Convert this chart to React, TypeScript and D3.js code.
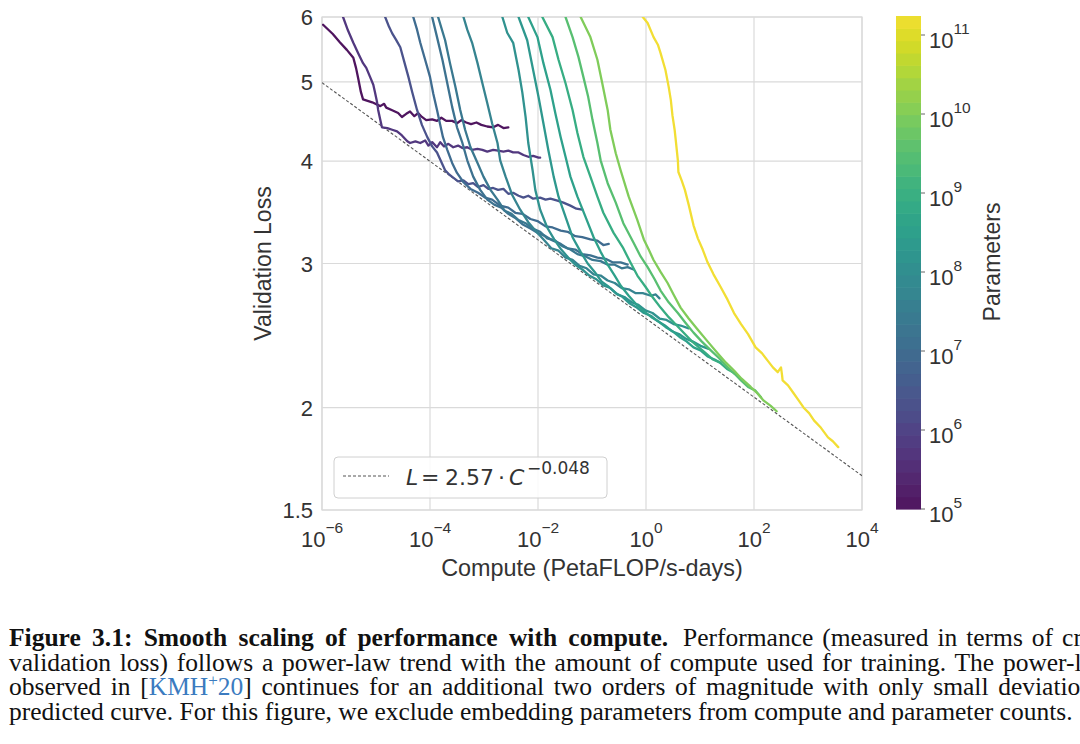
import React from 'react';
import * as d3 from 'd3';

const W = 1080;
const H = 744;

// Parameter count of each run (estimated from its colour on the colour bar)
const modelParams = [1.1e5, 5.6e5, 2.3e6, 1.0e7, 1.5e7, 2.3e7, 5.0e7, 1.3e8, 2.0e8, 3.6e8, 8.5e8, 3.2e9, 1.0e10, 1.74e11];

// Each curve: [log10 compute (PetaFLOP/s-days), validation loss]
const run1: [number, number][] = [[-5.98,5.87],[-5.80,5.72],[-5.67,5.59],[-5.54,5.47],[-5.42,5.35],[-5.37,5.20],[-5.33,5.05],[-5.28,4.86],[-5.24,4.76],[-5.07,4.72],[-4.92,4.67],[-4.85,4.70],[-4.81,4.65],[-4.68,4.61],[-4.59,4.58],[-4.52,4.53],[-4.44,4.57],[-4.37,4.60],[-4.29,4.54],[-4.22,4.58],[-4.15,4.53],[-4.07,4.49],[-3.96,4.50],[-3.87,4.48],[-3.79,4.52],[-3.70,4.48],[-3.59,4.48],[-3.50,4.45],[-3.42,4.49],[-3.33,4.46],[-3.24,4.44],[-3.14,4.46],[-3.05,4.43],[-2.94,4.41],[-2.83,4.40],[-2.74,4.43],[-2.64,4.39],[-2.55,4.40]];
const run2: [number, number][] = [[-5.61,6.0],[-5.52,5.78],[-5.42,5.58],[-5.33,5.42],[-5.24,5.27],[-5.18,5.20],[-5.11,5.07],[-5.05,4.96],[-5.02,4.86],[-4.98,4.72],[-4.96,4.62],[-4.92,4.49],[-4.89,4.40],[-4.79,4.39],[-4.70,4.37],[-4.61,4.35],[-4.52,4.30],[-4.42,4.23],[-4.37,4.21],[-4.27,4.23],[-4.18,4.21],[-4.09,4.24],[-4.03,4.18],[-3.96,4.22],[-3.87,4.16],[-3.81,4.22],[-3.74,4.17],[-3.66,4.20],[-3.57,4.16],[-3.48,4.18],[-3.40,4.15],[-3.31,4.16],[-3.22,4.13],[-3.12,4.14],[-3.03,4.13],[-2.94,4.11],[-2.83,4.13],[-2.74,4.12],[-2.64,4.11],[-2.55,4.12],[-2.46,4.10],[-2.36,4.10],[-2.27,4.07],[-2.18,4.05],[-2.09,4.06],[-1.99,4.04],[-1.96,4.04]];
const run3: [number, number][] = [[-4.83,6.0],[-4.76,5.84],[-4.70,5.73],[-4.63,5.63],[-4.55,5.51],[-4.48,5.30],[-4.40,5.07],[-4.33,4.86],[-4.24,4.62],[-4.15,4.43],[-4.05,4.28],[-3.96,4.17],[-3.87,4.10],[-3.79,3.99],[-3.72,3.90],[-3.64,3.85],[-3.57,3.82],[-3.48,3.78],[-3.38,3.79],[-3.29,3.75],[-3.20,3.76],[-3.11,3.72],[-3.01,3.74],[-2.92,3.70],[-2.83,3.71],[-2.74,3.69],[-2.64,3.70],[-2.55,3.65],[-2.46,3.66],[-2.36,3.63],[-2.27,3.61],[-2.18,3.63],[-2.09,3.60],[-1.96,3.61],[-1.86,3.59],[-1.77,3.60],[-1.64,3.58],[-1.53,3.56],[-1.40,3.53],[-1.29,3.50],[-1.18,3.49]];
const run4: [number, number][] = [[-4.31,6.0],[-4.24,5.79],[-4.18,5.58],[-4.09,5.32],[-4.00,5.07],[-3.94,4.84],[-3.87,4.62],[-3.81,4.43],[-3.76,4.28],[-3.68,4.13],[-3.59,3.98],[-3.50,3.87],[-3.38,3.77],[-3.25,3.70],[-3.11,3.66],[-2.98,3.61],[-2.85,3.59],[-2.70,3.53],[-2.55,3.51],[-2.42,3.46],[-2.29,3.45],[-2.14,3.40],[-2.01,3.38],[-1.86,3.33],[-1.73,3.32],[-1.58,3.29],[-1.45,3.28],[-1.31,3.24],[-1.18,3.23],[-1.03,3.21],[-0.90,3.20],[-0.79,3.16],[-0.69,3.17]];
const run5: [number, number][] = [[-3.96,6.0],[-3.87,5.67],[-3.77,5.32],[-3.68,4.98],[-3.59,4.66],[-3.50,4.40],[-3.40,4.21],[-3.31,4.01],[-3.20,3.83],[-3.07,3.69],[-2.94,3.59],[-2.81,3.54],[-2.68,3.51],[-2.55,3.45],[-2.42,3.41],[-2.29,3.35],[-2.14,3.31],[-2.01,3.27],[-1.86,3.24],[-1.73,3.20],[-1.58,3.17],[-1.45,3.13],[-1.31,3.12],[-1.18,3.08],[-1.03,3.07],[-0.90,3.05],[-0.75,3.04],[-0.62,3.01],[-0.47,3.01],[-0.34,2.99]];
const run6: [number, number][] = [[-3.85,6.0],[-3.72,5.62],[-3.63,5.27],[-3.53,4.93],[-3.44,4.62],[-3.35,4.37],[-3.25,4.16],[-3.12,3.98],[-3.01,3.83],[-2.88,3.69],[-2.75,3.59],[-2.62,3.48],[-2.49,3.45],[-2.36,3.39],[-2.23,3.36],[-2.10,3.31],[-1.96,3.28],[-1.83,3.22],[-1.68,3.20],[-1.55,3.15],[-1.40,3.12],[-1.27,3.08],[-1.12,3.06],[-0.99,3.03],[-0.84,3.02],[-0.71,2.99],[-0.58,2.99],[-0.45,2.96],[-0.34,2.97],[-0.23,2.95]];
const run7: [number, number][] = [[-3.38,6.0],[-3.31,5.79],[-3.22,5.58],[-3.12,5.27],[-3.03,4.98],[-2.94,4.71],[-2.85,4.45],[-2.75,4.21],[-2.70,4.01],[-2.60,3.83],[-2.48,3.64],[-2.33,3.49],[-2.18,3.37],[-2.03,3.28],[-1.88,3.20],[-1.75,3.13],[-1.62,3.11],[-1.49,3.05],[-1.36,3.03],[-1.23,2.98],[-1.10,2.96],[-0.97,2.91],[-0.84,2.90],[-0.71,2.86],[-0.58,2.84],[-0.45,2.80],[-0.32,2.79],[-0.19,2.76],[-0.06,2.76],[0.09,2.74],[0.18,2.75],[0.25,2.72]];
const run8: [number, number][] = [[-2.66,6.0],[-2.57,5.74],[-2.46,5.58],[-2.36,5.17],[-2.29,4.85],[-2.23,4.53],[-2.18,4.21],[-2.10,3.90],[-2.05,3.69],[-1.96,3.49],[-1.83,3.32],[-1.70,3.21],[-1.57,3.12],[-1.44,3.05],[-1.31,2.99],[-1.18,2.95],[-1.05,2.90],[-0.92,2.87],[-0.79,2.82],[-0.66,2.80],[-0.53,2.75],[-0.40,2.73],[-0.27,2.69],[-0.14,2.67],[-0.01,2.63],[0.12,2.61],[0.25,2.57],[0.38,2.56],[0.51,2.53],[0.64,2.52],[0.79,2.50]];
const run9: [number, number][] = [[-2.36,6.0],[-2.20,5.62],[-2.09,5.17],[-1.99,4.79],[-1.90,4.45],[-1.81,4.13],[-1.71,3.83],[-1.62,3.62],[-1.49,3.42],[-1.36,3.23],[-1.21,3.10],[-1.08,3.00],[-0.95,2.93],[-0.82,2.85],[-0.69,2.81],[-0.56,2.76],[-0.43,2.73],[-0.30,2.68],[-0.17,2.65],[-0.04,2.61],[0.09,2.59],[0.22,2.55],[0.35,2.52],[0.48,2.48],[0.61,2.46],[0.73,2.43],[0.86,2.41],[1.01,2.38],[1.16,2.36]];
const run10: [number, number][] = [[-2.18,6.0],[-2.01,5.67],[-1.90,5.27],[-1.77,4.89],[-1.68,4.58],[-1.58,4.28],[-1.49,4.05],[-1.40,3.83],[-1.27,3.62],[-1.12,3.42],[-0.97,3.23],[-0.84,3.10],[-0.71,2.99],[-0.58,2.90],[-0.47,2.82],[-0.32,2.74],[-0.17,2.67],[-0.03,2.62],[0.10,2.58],[0.23,2.55],[0.36,2.51],[0.49,2.48],[0.62,2.44],[0.75,2.41],[0.88,2.37],[1.01,2.35],[1.14,2.31],[1.27,2.29],[1.38,2.27]];
const run11: [number, number][] = [[-1.92,6.0],[-1.73,5.67],[-1.62,5.32],[-1.49,4.98],[-1.36,4.62],[-1.27,4.33],[-1.16,4.05],[-1.03,3.83],[-0.90,3.62],[-0.79,3.46],[-0.60,3.27],[-0.43,3.14],[-0.29,3.01],[-0.16,2.90],[-0.01,2.81],[0.12,2.73],[0.27,2.65],[0.42,2.58],[0.57,2.52],[0.72,2.46],[0.85,2.41],[0.98,2.37],[1.11,2.33],[1.24,2.29],[1.37,2.27],[1.50,2.23],[1.61,2.21],[1.72,2.18]];
const run12: [number, number][] = [[-1.49,6.0],[-1.36,5.67],[-1.25,5.36],[-1.16,5.07],[-1.07,4.79],[-0.99,4.49],[-0.90,4.21],[-0.84,4.01],[-0.71,3.76],[-0.56,3.56],[-0.42,3.36],[-0.23,3.18],[-0.10,3.06],[0.03,2.97],[0.16,2.87],[0.27,2.78],[0.42,2.69],[0.59,2.61],[0.73,2.54],[0.88,2.47],[1.03,2.41],[1.20,2.35],[1.35,2.30],[1.51,2.24],[1.64,2.20],[1.76,2.16],[1.89,2.12],[2.02,2.10],[2.13,2.06]];
const run13: [number, number][] = [[-1.21,6.0],[-1.03,5.67],[-0.90,5.32],[-0.81,4.98],[-0.71,4.62],[-0.66,4.37],[-0.56,4.09],[-0.47,3.90],[-0.32,3.62],[-0.16,3.39],[-0.04,3.21],[0.05,3.12],[0.14,3.03],[0.27,2.93],[0.40,2.84],[0.51,2.75],[0.64,2.65],[0.79,2.57],[0.96,2.49],[1.14,2.41],[1.33,2.33],[1.48,2.27],[1.63,2.22],[1.77,2.17],[1.94,2.12],[2.07,2.08],[2.18,2.04],[2.31,2.01],[2.42,1.98]];
const run14: [number, number][] = [[-0.06,6.0],[0.03,5.90],[0.14,5.67],[0.22,5.55],[0.27,5.42],[0.36,5.17],[0.42,4.93],[0.46,4.75],[0.49,4.55],[0.53,4.37],[0.55,4.25],[0.59,4.01],[0.60,3.88],[0.66,3.79],[0.72,3.69],[0.79,3.54],[0.88,3.34],[0.96,3.22],[1.05,3.12],[1.14,3.01],[1.25,2.91],[1.38,2.81],[1.51,2.71],[1.63,2.61],[1.76,2.53],[1.89,2.46],[2.03,2.37],[2.15,2.33],[2.26,2.28],[2.35,2.24],[2.44,2.21],[2.50,2.24],[2.52,2.19],[2.53,2.16],[2.63,2.13],[2.74,2.08],[2.83,2.04],[2.92,2.00],[3.02,1.97],[3.11,1.93],[3.24,1.89],[3.37,1.84],[3.46,1.82],[3.56,1.79]];

const runs = [run1, run2, run3, run4, run5, run6, run7, run8, run9, run10, run11, run12, run13, run14];

// Power-law fit shown in the legend: L = 2.57 * C^-0.048
const fitCoef = 2.57;
const fitExp = -0.048;

const xTickExps = [-6, -4, -2, 0, 2, 4];
const yTicks = [1.5, 2, 3, 4, 5, 6];
const cbarTickExps = [5, 6, 7, 8, 9, 10, 11];
const cbarBands = 40;

const FONT = "'Liberation Sans', Arial, sans-serif";
const SERIF = "'Liberation Serif', 'Times New Roman', serif";
const TXT = '#333';
const GRID = '#dadada';

// slightly washed-out viridis, as in the reference
const wash = (c: string) => d3.interpolateRgb(c, '#a0a0a0')(0.12);

export default function App() {
  const x = d3.scaleLog().domain([1e-6, 1e4]).range([322, 862]);
  const y = d3.scaleLog().domain([1.5, 6]).range([510, 17]);
  const pMin = 1e5;
  const pMax = 1.74e11;
  const cy = d3.scaleLog().domain([pMin, pMax]).range([509, 16]);
  const tOf = (p: number) => (Math.log10(p) - Math.log10(pMin)) / (Math.log10(pMax) - Math.log10(pMin));
  const color = (p: number) => wash(d3.interpolateViridis(tOf(p)));

  const line = d3
    .line<[number, number]>()
    .x((d) => x(Math.pow(10, d[0])))
    .y((d) => y(d[1]));

  const [x0, x1] = x.domain();
  const fitPts: [number, number][] = [x0, x1].map((c) => [Math.log10(c), fitCoef * Math.pow(c, fitExp)]);

  const lMin = Math.log10(pMin);
  const lMax = Math.log10(pMax);
  const bands = d3.range(cbarBands).map((i) => {
    const l0 = lMin + ((lMax - lMin) * i) / cbarBands;
    const l1 = lMin + ((lMax - lMin) * (i + 1)) / cbarBands;
    return { y0: cy(Math.pow(10, l1)), y1: cy(Math.pow(10, l0)), c: wash(d3.interpolateViridis((i + 0.5) / cbarBands)) };
  });

  const [pl, pr] = x.range();
  const [pb, pt] = y.range();

  return (
    <svg width={W} height={H} style={{ position: 'fixed', left: 0, top: 0, background: '#fff' }}>
      <defs>
        <clipPath id="plotclip">
          <rect x={pl} y={pt} width={pr - pl} height={pb - pt} />
        </clipPath>
      </defs>
      <rect x={0} y={0} width={W} height={H} fill="#fff" />
      {/* grid */}
      {xTickExps.map((e) => (
        <line key={'gx' + e} x1={x(Math.pow(10, e))} x2={x(Math.pow(10, e))} y1={pt} y2={pb} stroke={GRID} strokeWidth={1.2} />
      ))}
      {yTicks.map((v) => (
        <line key={'gy' + v} x1={pl} x2={pr} y1={y(v)} y2={y(v)} stroke={GRID} strokeWidth={1.2} />
      ))}
      <rect x={pl} y={pt} width={pr - pl} height={pb - pt} fill="none" stroke={GRID} strokeWidth={1.2} />

      {/* fit line */}
      <path d={line(fitPts) || ''} fill="none" stroke="#555" strokeWidth={1.1} strokeDasharray="3,2" clipPath="url(#plotclip)" />

      {/* runs */}
      <g clipPath="url(#plotclip)">
        {runs.map((r, i) => (
          <path key={i} d={line(r) || ''} fill="none" stroke={color(modelParams[i])} strokeWidth={2.3} strokeLinejoin="round" strokeLinecap="round" />
        ))}
      </g>

      {/* legend */}
      <rect x={334} y={457} width={273} height={41} rx={4} fill="#fff" fillOpacity={0.85} stroke="#d0d0d0" strokeWidth={1} />
      <line x1={343} x2={389} y1={476} y2={476} stroke="#555" strokeWidth={1.1} strokeDasharray="3,2" />
      <text y={485} fontFamily="'DejaVu Sans', sans-serif" fontSize={22} fill={TXT}>
        <tspan x={406} fontStyle="italic">L</tspan>
        <tspan x={421}>=</tspan>
        <tspan x={445}>2.57</tspan>
        <tspan x={498}>·</tspan>
        <tspan x={509} fontStyle="italic">C</tspan>
        <tspan x={527} dy={-11} fontSize={17}>−0.048</tspan>
      </text>

      {/* y tick labels */}
      {yTicks.map((v) => (
        <text key={'yl' + v} x={313} y={y(v) + 8} textAnchor="end" fontFamily={FONT} fontSize={22} fill={TXT}>
          {String(v)}
        </text>
      ))}
      {/* x tick labels */}
      {xTickExps.map((e) => (
        <text key={'xl' + e} x={x(Math.pow(10, e))} y={547} textAnchor="middle" fontFamily={FONT} fontSize={22} fill={TXT}>
          10
          <tspan dy={-14} fontSize={15.5}>{e < 0 ? '−' + Math.abs(e) : String(e)}</tspan>
        </text>
      ))}
      <text x={(pl + pr) / 2} y={576} textAnchor="middle" fontFamily={FONT} fontSize={23.4} fill={TXT}>
        Compute (PetaFLOP/s-days)
      </text>
      <text transform={`translate(271,${(pt + pb) / 2}) rotate(-90)`} textAnchor="middle" fontFamily={FONT} fontSize={23} fill={TXT}>
        Validation Loss
      </text>

      {/* colorbar */}
      {bands.map((b, i) => (
        <rect key={'cb' + i} x={896} y={b.y0} width={25} height={b.y1 - b.y0 + 0.6} fill={b.c} />
      ))}
      {cbarTickExps.map((e) => (
        <g key={'ct' + e}>
          <line x1={921} x2={925} y1={cy(Math.pow(10, e))} y2={cy(Math.pow(10, e))} stroke="#666" strokeWidth={1} />
          <text x={929} y={cy(Math.pow(10, e)) + 13} fontFamily={FONT} fontSize={22} fill={TXT}>
            10
            <tspan dy={-14} fontSize={15.5}>{String(e)}</tspan>
          </text>
        </g>
      ))}
      <text transform={`translate(1000,262) rotate(-90)`} textAnchor="middle" fontFamily={FONT} fontSize={23} fill={TXT}>
        Parameters
      </text>

      {/* caption */}
      <g fontFamily={SERIF} fontSize={25.5} fill="#111">
        <text x={9} y={646} fontWeight="bold" style={{ wordSpacing: '4.9px' }}>
          Figure 3.1: Smooth scaling of performance with compute.
        </text>
        <text x={683} y={646} style={{ wordSpacing: '2.6px' }}>
          Performance (measured in terms of cross-entropy
        </text>

        <text x={9} y={670.5} style={{ wordSpacing: '2.4px' }}>
          validation loss) follows a power-law trend with the amount of compute used for training. The power-law behavior
        </text>

        <text x={9} y={695} style={{ wordSpacing: '3.3px' }}>
          observed in [<tspan fill="#3b7bbf">KMH</tspan>
          <tspan fill="#3b7bbf" dy={-9} fontSize={17}>+</tspan>
          <tspan fill="#3b7bbf" dy={9}>20</tspan>] continues for an additional two orders of magnitude with only small deviations from the
        </text>

        <text x={9} y={719.5}>
          predicted curve. For this figure, we exclude embedding parameters from compute and parameter counts.
        </text>
      </g>
    </svg>
  );
}
